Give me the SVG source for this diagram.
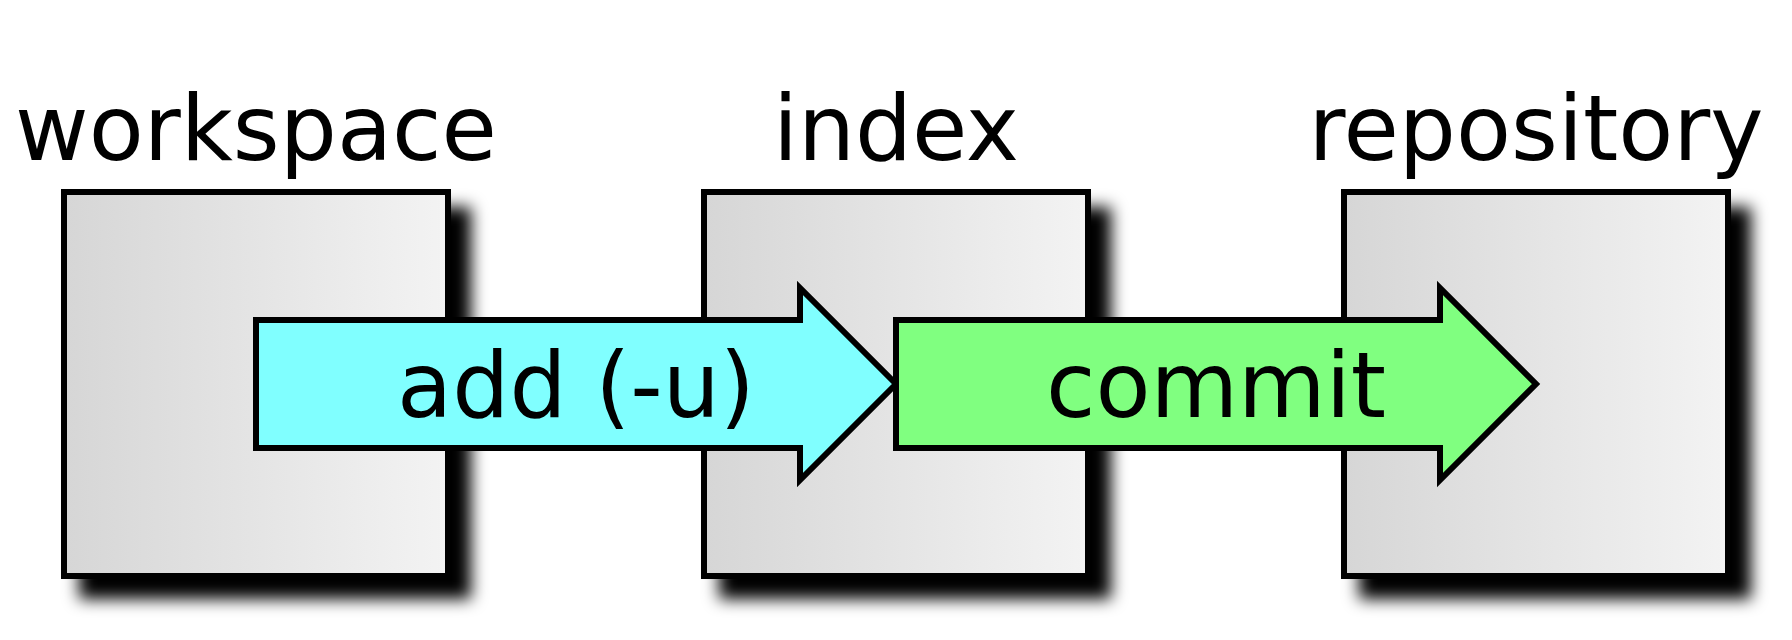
<svg xmlns="http://www.w3.org/2000/svg" width="1792" height="640" viewBox="0 0 1792 640">
<defs>
<linearGradient id="boxGrad" x1="0" y1="0" x2="1" y2="0">
<stop offset="0" stop-color="#d6d6d6"/>
<stop offset="1" stop-color="#f3f3f3"/>
</linearGradient>
<filter id="shadow" x="-20%" y="-20%" width="150%" height="150%">
<feGaussianBlur stdDeviation="8"/>
</filter>
<style>
.label{font-family:"DejaVu Sans","Liberation Sans",sans-serif;font-size:90px;fill:#000;text-anchor:middle}
.box{fill:url(#boxGrad);stroke:#000;stroke-width:6}
.shadow{fill:#000;filter:url(#shadow)}
.arrow{stroke:#000;stroke-width:6;stroke-linejoin:miter}
</style>
</defs>
<rect width="1792" height="640" fill="#fff"/>
<g id="workspace">
<rect class="shadow" x="79" y="207" width="392" height="392"/>
<rect class="box" x="64" y="192" width="384" height="384"/>
<text class="label" x="256" y="160">workspace</text>
</g>
<g id="index">
<rect class="shadow" x="719" y="207" width="392" height="392"/>
<rect class="box" x="704" y="192" width="384" height="384"/>
<text class="label" x="896" y="160">index</text>
</g>
<g id="repository">
<rect class="shadow" x="1359" y="207" width="392" height="392"/>
<rect class="box" x="1344" y="192" width="384" height="384"/>
<text class="label" x="1536" y="160">repository</text>
</g>
<g id="connectors">
<g id="add">
<path class="arrow" fill="#80ffff" d="M256 320 H800 V288 L896 384 L800 480 V448 H256 Z"/>
<text class="label" x="576" y="417">add (-u)</text>
</g>
<g id="commit">
<path class="arrow" fill="#80ff80" d="M896 320 H1440 V288 L1536 384 L1440 480 V448 H896 Z"/>
<text class="label" x="1216" y="417">commit</text>
</g>
</g>
</svg>
